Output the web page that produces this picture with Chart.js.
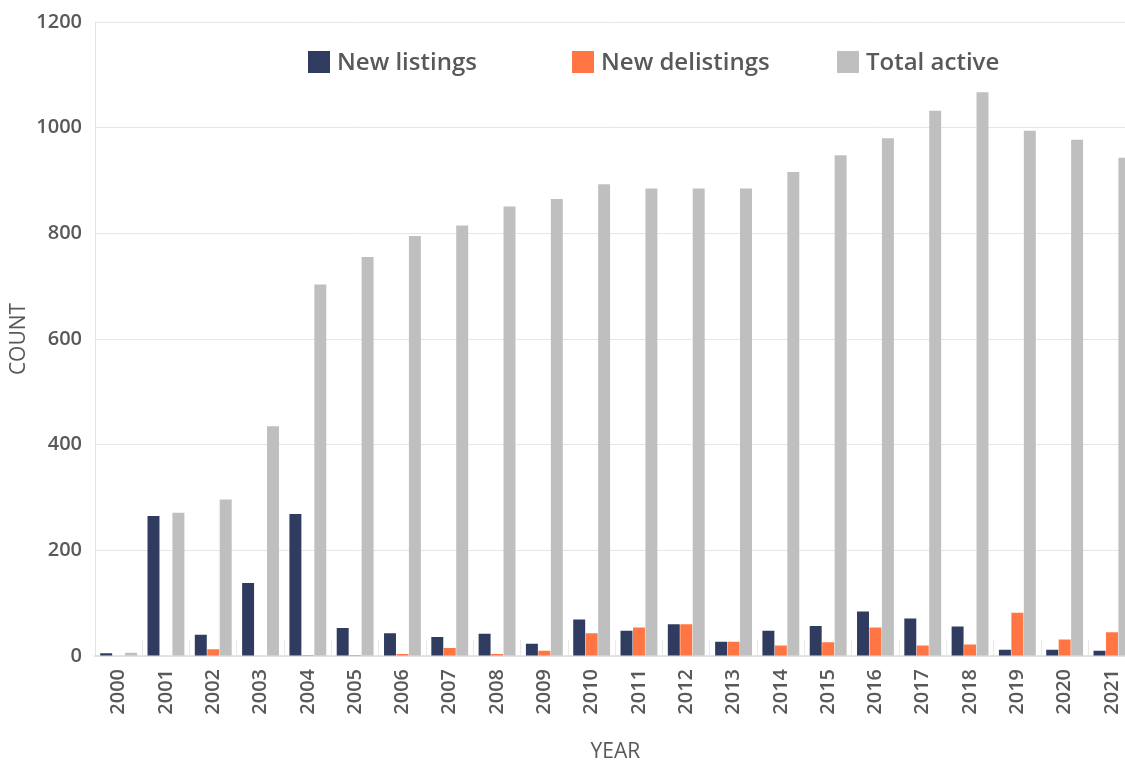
<!DOCTYPE html>
<html>
<head>
<meta charset="utf-8">
<script src="https://cdn.jsdelivr.net/npm/chart.js@4"></script>
<style>
  html, body { margin: 0; padding: 0; background: #fff; overflow: hidden; }
  #wrap { width: 1165px; height: 762px; position: relative; }
</style>
</head>
<body>
<div id="wrap"><canvas id="chart"></canvas></div>
<script>
// --- data ---
const years = ['2000','2001','2002','2003','2004','2005','2006','2007','2008','2009','2010',
               '2011','2012','2013','2014','2015','2016','2017','2018','2019','2020','2021'];
const newListings   = [5, 265, 40, 138, 269, 53, 43, 36, 42, 23, 69, 48, 60, 27, 48, 57, 84, 71, 56, 12, 12, 10];
const newDelistings = [1, 1, 13, 1, 2, 2, 4, 15, 4, 10, 43, 54, 60, 27, 20, 26, 54, 20, 22, 82, 31, 45];
const totalActive   = [6, 271, 296, 435, 703, 755, 795, 815, 851, 865, 893, 885, 885, 885, 916, 948, 980, 1032, 1067, 994, 977, 943];

const FONT = "'Open Sans', 'Noto Sans', sans-serif";
const TEXT = '#595959';

// legend sits inside the plot area, like the original
const insideLegend = {
    id: 'insideLegend',
    afterDraw(chart) {
        const ctx = chart.ctx;
        const xs = [308, 572, 837];
        const y = 51, box = 22;
        ctx.save();
        ctx.font = '600 24px ' + FONT;
        ctx.textBaseline = 'middle';
        ctx.textAlign = 'left';
        chart.data.datasets.forEach((ds, i) => {
            ctx.fillStyle = ds.backgroundColor;
            ctx.fillRect(xs[i], y, box, box);
            ctx.fillStyle = TEXT;
            ctx.fillText(ds.label, xs[i] + box + 7, y + box / 2 + 1);
        });
        ctx.restore();
    }
};

const ctx = document.getElementById('chart').getContext('2d');
new Chart(ctx, {
    type: 'bar',
    data: {
        labels: years,
        datasets: [
            { label: 'New listings', data: newListings, backgroundColor: '#303c5f' },
            { label: 'New delistings', data: newDelistings, backgroundColor: '#ff7644' },
            { label: 'Total active', data: totalActive, backgroundColor: '#bfbfbf' }
        ]
    },
    options: {
        responsive: true,
        maintainAspectRatio: false,
        animation: false,
        datasets: { bar: { categoryPercentage: 0.79, barPercentage: 0.96 } },
        layout: { padding: { top: 22, right: 2, left: 0, bottom: 0 } },
        plugins: { legend: { display: false }, tooltip: { enabled: false } },
        scales: {
            x: {
                afterFit: scale => { scale.height = 106; },
                grid: { offset: true, drawOnChartArea: false, tickLength: -16, color: '#e8e8e8' },
                border: { color: '#e3e3e3', width: 2 },
                ticks: { color: TEXT, font: { family: FONT, size: 20, weight: '600' }, minRotation: 90, maxRotation: 90, padding: 29 },
                title: { display: true, text: 'YEAR', color: TEXT, font: { family: FONT, size: 21 }, padding: { top: 0, bottom: -3 } }
            },
            y: {
                min: 0, max: 1200,
                afterFit: scale => { scale.width = 95; scale.paddingTop = 0; },
                ticks: { stepSize: 200, color: TEXT, font: { family: FONT, size: 20, weight: '600' }, padding: 13,
                         callback: v => String(v) },
                grid: { color: '#e6e6e6', drawTicks: false },
                border: { color: '#e3e3e3' },
                title: { display: true, text: 'COUNT', color: TEXT, font: { family: FONT, size: 21 }, padding: { top: 6, bottom: 4 } }
            }
        }
    },
    plugins: [insideLegend]
});
</script>
</body>
</html>
